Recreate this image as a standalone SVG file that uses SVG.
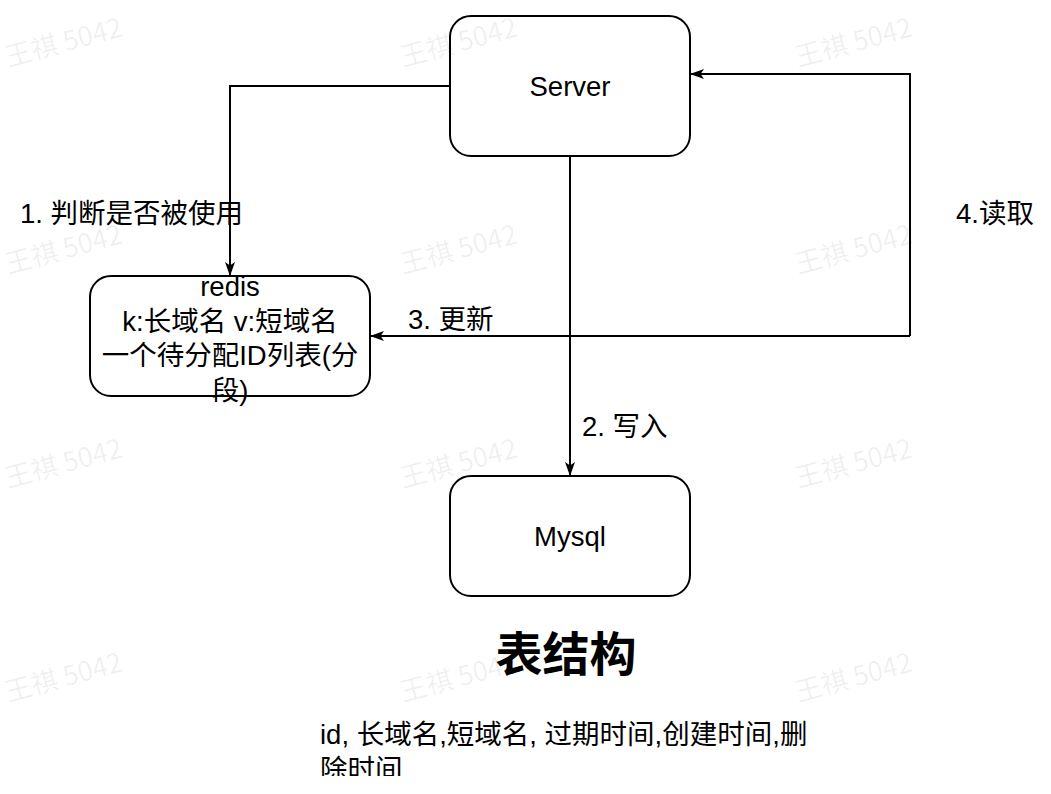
<svg xmlns="http://www.w3.org/2000/svg" width="1051" height="794" viewBox="0 0 1051 794">
<style>
.box{fill:#ffffff;stroke:#000000;stroke-width:2}
.edge{fill:none;stroke:#000000;stroke-width:2}
.t{font-family:"Liberation Sans","Noto Sans CJK SC",sans-serif;font-size:27.5px;fill:#000000}
.c{text-anchor:middle}
.title{font-family:"Noto Sans CJK SC","Liberation Sans",sans-serif;font-size:47px;font-weight:bold;fill:#000000;text-anchor:middle}
.wm{font-family:"Noto Sans CJK SC","Liberation Sans",sans-serif;font-size:27px;fill:#000000;fill-opacity:0.065}
</style>
<defs>
<marker id="arrow" viewBox="0 0 14 10" refX="14" refY="5" markerWidth="14" markerHeight="10" markerUnits="userSpaceOnUse" orient="auto">
<path d="M0,0 L14,5 L0,10 L3.5,5 Z" fill="#000000"/>
</marker>
<clipPath id="clipBottom"><rect x="0" y="0" width="1051" height="776"/></clipPath>
</defs>
<rect x="0" y="0" width="1051" height="794" fill="#ffffff"/>

<g id="connectors">
<path class="edge" d="M450,86 L230,86 L230,276" marker-end="url(#arrow)"/>
<path class="edge" d="M570,156 L570,476" marker-end="url(#arrow)"/>
<path class="edge" d="M910,336 L910,74 L690,74" marker-end="url(#arrow)"/>
<path class="edge" d="M910,336 L370,336" marker-end="url(#arrow)"/>
<text class="t" x="20" y="223">1. 判断是否被使用</text>
<text class="t" x="582" y="436">2. 写入</text>
<text class="t" x="408" y="329">3. 更新</text>
<text class="t" x="956" y="223">4.读取</text>
</g>

<g id="server">
<rect class="box" x="450" y="16" width="240" height="140" rx="21" ry="21"/>
<text class="t c" x="570" y="96">Server</text>
</g>

<g id="redis">
<rect class="box" x="90" y="276" width="280" height="120" rx="21" ry="21"/>
<text class="t c" x="230" y="296">redis</text>
<text class="t c" x="230" y="330.5">k:长域名 v:短域名</text>
<text class="t c" x="230" y="365">一个待分配ID列表(分</text>
<text class="t c" x="230" y="399.5">段)</text>
</g>

<g id="mysql">
<rect class="box" x="450" y="476" width="240" height="120" rx="21" ry="21"/>
<text class="t c" x="570" y="546">Mysql</text>
</g>

<g id="table-title">
<text class="title" x="566" y="671">表结构</text>
</g>

<g id="table-fields" clip-path="url(#clipBottom)">
<text class="t" x="320" y="744">id, 长域名,短域名, 过期时间,创建时间,删</text>
<text class="t" x="320" y="778.5">除时间</text>
</g>

<g id="watermarks">
<text class="wm" transform="translate(8,67) rotate(-15)">王祺 5042</text>
<text class="wm" transform="translate(403,67) rotate(-15)">王祺 5042</text>
<text class="wm" transform="translate(798,67) rotate(-15)">王祺 5042</text>
<text class="wm" transform="translate(8,274) rotate(-15)">王祺 5042</text>
<text class="wm" transform="translate(403,274) rotate(-15)">王祺 5042</text>
<text class="wm" transform="translate(798,274) rotate(-15)">王祺 5042</text>
<text class="wm" transform="translate(8,488) rotate(-15)">王祺 5042</text>
<text class="wm" transform="translate(403,488) rotate(-15)">王祺 5042</text>
<text class="wm" transform="translate(798,488) rotate(-15)">王祺 5042</text>
<text class="wm" transform="translate(8,702) rotate(-15)">王祺 5042</text>
<text class="wm" transform="translate(403,702) rotate(-15)">王祺 5042</text>
<text class="wm" transform="translate(798,702) rotate(-15)">王祺 5042</text>
</g>
</svg>
